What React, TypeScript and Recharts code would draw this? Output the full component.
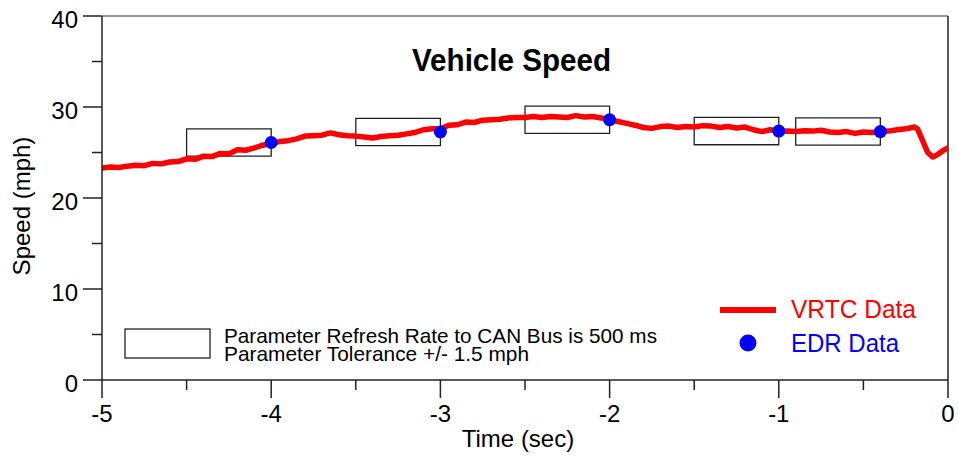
import React from 'react';
import { ComposedChart, Line, Scatter, XAxis, YAxis, ReferenceArea, ReferenceLine } from 'recharts';

const vrtcTime = [
  -5.0, -4.95, -4.9, -4.85, -4.8, -4.75, -4.7, -4.65, -4.6, -4.55,
  -4.5, -4.45, -4.4, -4.35, -4.3, -4.25, -4.2, -4.15, -4.1, -4.05,
  -4.0, -3.95, -3.9, -3.85, -3.8, -3.75, -3.7, -3.65, -3.6, -3.55,
  -3.5, -3.45, -3.4, -3.35, -3.3, -3.25, -3.2, -3.15, -3.1, -3.05,
  -3.0, -2.95, -2.9, -2.85, -2.8, -2.75, -2.7, -2.65, -2.6, -2.55,
  -2.5, -2.45, -2.4, -2.35, -2.3, -2.25, -2.2, -2.15, -2.1, -2.05,
  -2.0, -1.95, -1.9, -1.85, -1.8, -1.75, -1.7, -1.65, -1.6, -1.55,
  -1.5, -1.45, -1.4, -1.35, -1.3, -1.25, -1.2, -1.15, -1.1, -1.05,
  -1.0, -0.95, -0.9, -0.85, -0.8, -0.75, -0.7, -0.65, -0.6, -0.55,
  -0.5, -0.45, -0.4, -0.35, -0.3, -0.25, -0.2, -0.18, -0.15, -0.12,
  -0.09, -0.06, -0.03, 0.0,
];
const vrtcSpeed = [
  23.3, 23.4, 23.35, 23.5, 23.6, 23.55, 23.8, 23.75, 23.95, 24.0,
  24.3, 24.25, 24.6, 24.55, 24.9, 24.85, 25.3, 25.25, 25.5, 25.8,
  26.0, 26.2, 26.3, 26.5, 26.8, 26.85, 26.9, 27.15, 26.95, 26.85,
  26.8, 26.7, 26.6, 26.75, 26.85, 26.9, 27.05, 27.2, 27.5, 27.6,
  27.6, 28.0, 28.05, 28.35, 28.3, 28.55, 28.6, 28.65, 28.8, 28.85,
  28.85, 28.95, 28.85, 28.95, 28.9, 28.85, 29.05, 28.9, 28.95, 28.8,
  28.6, 28.4, 28.2, 28.0, 27.75, 27.65, 27.85, 27.9, 27.75, 27.85,
  27.8, 27.95, 27.9, 27.75, 27.85, 27.7, 27.8, 27.5, 27.3, 27.5,
  27.3, 27.35, 27.3, 27.4, 27.35, 27.45, 27.25, 27.2, 27.3, 27.1,
  27.25, 27.2, 27.3, 27.35, 27.5, 27.6, 27.8, 27.6, 26.3, 25.0,
  24.5, 24.8, 25.2, 25.5,
];

const edrTime = [-4.0, -3.0, -2.0, -1.0, -0.4];
const edrSpeed = [26.1, 27.25, 28.6, 27.35, 27.3];
const refreshPeriod = 0.5;
const tolerance = 1.5;

const xTicks = [-5, -4.5, -4, -3.5, -3, -2.5, -2, -1.5, -1, -0.5, 0];
const yTicks = [0, 5, 10, 15, 20, 25, 30, 35, 40];

const vrtcData = vrtcTime.map((t, i) => ({ t, v: vrtcSpeed[i] }));
const edrData = edrTime.map((t, i) => ({ t, e: edrSpeed[i] }));

const FONT = 'Liberation Sans, Arial, sans-serif';
const AX = '#222';

const YTick = (props: any) => {
  const { x, y, payload } = props;
  const major = payload.value % 10 === 0;
  return (
    <g>
      <line x1={x - (major ? 19 : 10)} x2={x} y1={y} y2={y} stroke={AX} strokeWidth={1.5} />
      {major && (
        <text x={x - 24} y={y + 11.5} textAnchor="end" fontSize={24} fontFamily={FONT} fill="#000">
          {String(payload.value)}
        </text>
      )}
    </g>
  );
};

const XTick = (props: any) => {
  const { x, y, payload } = props;
  const major = Math.abs(payload.value % 1) < 1e-9;
  return (
    <g>
      <line x1={x} x2={x} y1={y} y2={y + (major ? 18 : 10)} stroke={AX} strokeWidth={1.5} />
      {major && (
        <text x={x} y={y + 41.5} textAnchor="middle" fontSize={24} fontFamily={FONT} fill="#000">
          {String(payload.value)}
        </text>
      )}
    </g>
  );
};

const EdrDot = (props: any) => <circle cx={props.cx} cy={props.cy} r={6.5} fill="#0000ff" />;

export default function App() {
  return (
    <div style={{ position: 'absolute', left: 0, top: 0, width: 958, height: 459, background: '#fff' }}>
      <ComposedChart width={958} height={459} margin={{ top: 16, right: 10, bottom: 0, left: 2 }}>
        <XAxis
          type="number"
          dataKey="t"
          domain={[-5, 0]}
          ticks={xTicks}
          height={79}
          tickSize={0}
          tickMargin={0}
          tickLine={false}
          tick={<XTick />}
          axisLine={{ stroke: AX, strokeWidth: 1.5 }}
          allowDataOverflow
        />
        <YAxis
          type="number"
          domain={[0, 40]}
          ticks={yTicks}
          width={100}
          tickSize={0}
          tickMargin={0}
          tickLine={false}
          tick={<YTick />}
          axisLine={{ stroke: AX, strokeWidth: 1.5 }}
          allowDataOverflow
        />
        <ReferenceLine y={40} stroke="#777" strokeWidth={1.5} />
        <ReferenceLine x={0} stroke={AX} strokeWidth={1.5} />
        {edrTime.map((t, i) => (
          <ReferenceArea
            key={i}
            x1={t - refreshPeriod}
            x2={t}
            y1={edrSpeed[i] - tolerance}
            y2={edrSpeed[i] + tolerance}
            fill="none"
            fillOpacity={0}
            stroke="#222"
            strokeWidth={1.3}
          />
        ))}
        <Line
          data={vrtcData}
          dataKey="v"
          type="linear"
          stroke="#ff0000"
          strokeWidth={5.5}
          dot={false}
          isAnimationActive={false}
          strokeLinejoin="round"
        />
        <Scatter data={edrData} dataKey="e" shape={<EdrDot />} isAnimationActive={false} />
      </ComposedChart>
      <svg width={958} height={459} style={{ position: 'absolute', left: 0, top: 0, pointerEvents: 'none' }}>
        <text x={412} y={71} fontSize={32} fontWeight="bold" fontFamily={FONT} textLength={199} lengthAdjust="spacingAndGlyphs">
          Vehicle Speed
        </text>
        <text transform="translate(30,206) rotate(-90)" textAnchor="middle" fontSize={24} fontFamily={FONT}>
          Speed (mph)
        </text>
        <text x={518} y={447} textAnchor="middle" fontSize={24} fontFamily={FONT}>
          Time (sec)
        </text>
        <rect x={125} y={329} width={85} height={29} fill="none" stroke="#222" strokeWidth={1.3} />
        <text x={224} y={343} fontSize={21} fontFamily={FONT} textLength={433} lengthAdjust="spacingAndGlyphs">
          Parameter Refresh Rate to CAN Bus is 500 ms
        </text>
        <text x={224} y={361} fontSize={21} fontFamily={FONT} textLength={305} lengthAdjust="spacingAndGlyphs">
          Parameter Tolerance +/- 1.5 mph
        </text>
        <line x1={720} x2={776} y1={310} y2={310} stroke="#ff0000" strokeWidth={6} />
        <text x={791} y={318} fontSize={26} fontFamily={FONT} fill="#ff0000" textLength={125} lengthAdjust="spacingAndGlyphs">
          VRTC Data
        </text>
        <circle cx={748} cy={343} r={8.5} fill="#0000ff" />
        <text x={791} y={352} fontSize={26} fontFamily={FONT} fill="#0000ff" textLength={108} lengthAdjust="spacingAndGlyphs">
          EDR Data
        </text>
      </svg>
    </div>
  );
}
